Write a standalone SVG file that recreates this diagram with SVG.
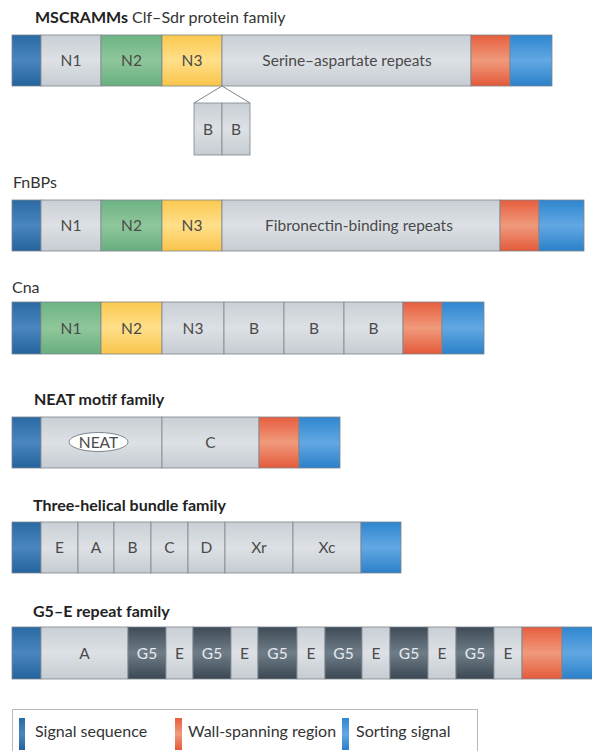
<svg xmlns="http://www.w3.org/2000/svg" width="592" height="751" viewBox="0 0 592 751">
<defs>
<linearGradient id="gSig" x1="0" y1="0" x2="0" y2="1"><stop offset="0" stop-color="#2a6aa3"/><stop offset="0.5" stop-color="#4a86bf"/><stop offset="1" stop-color="#24639c"/></linearGradient>
<linearGradient id="gGrey" x1="0" y1="0" x2="0" y2="1"><stop offset="0" stop-color="#c9cfd5"/><stop offset="0.5" stop-color="#dde1e5"/><stop offset="1" stop-color="#c6ccd2"/></linearGradient>
<linearGradient id="gGreen" x1="0" y1="0" x2="0" y2="1"><stop offset="0" stop-color="#6db383"/><stop offset="0.5" stop-color="#8fc79b"/><stop offset="1" stop-color="#68ae7e"/></linearGradient>
<linearGradient id="gYel" x1="0" y1="0" x2="0" y2="1"><stop offset="0" stop-color="#fbc94f"/><stop offset="0.5" stop-color="#ffdf8a"/><stop offset="1" stop-color="#f9c44a"/></linearGradient>
<linearGradient id="gRed" x1="0" y1="0" x2="0" y2="1"><stop offset="0" stop-color="#e65e3e"/><stop offset="0.5" stop-color="#f09a7c"/><stop offset="1" stop-color="#e35a3a"/></linearGradient>
<linearGradient id="gSort" x1="0" y1="0" x2="0" y2="1"><stop offset="0" stop-color="#2f86cf"/><stop offset="0.5" stop-color="#62a8e3"/><stop offset="1" stop-color="#2b80c9"/></linearGradient>
<linearGradient id="gG5" x1="0" y1="0" x2="0" y2="1"><stop offset="0" stop-color="#3f4c58"/><stop offset="0.5" stop-color="#6f7d89"/><stop offset="1" stop-color="#3b4854"/></linearGradient>
<style>
.sig{fill:url(#gSig)}
.grey{fill:url(#gGrey)}
.green{fill:url(#gGreen)}
.yel{fill:url(#gYel)}
.red{fill:url(#gRed)}
.sort{fill:url(#gSort)}
.g5{fill:url(#gG5)}
rect.s{stroke:#7e868d;stroke-width:0.8}
.lbl{font-family:Lato,"Liberation Sans",sans-serif;font-size:15.5px;fill:#4a4a4a;text-anchor:middle}
.lw{fill:#e6eaee}
.title{font-family:Lato,"Liberation Sans",sans-serif;font-size:16px;fill:#333}
.b{font-weight:bold;fill:#222}
.conn{stroke:#7e868d;stroke-width:1;fill:none}
.leg{font-family:Lato,"Liberation Sans",sans-serif;font-size:16px;fill:#333}
</style>
</defs>
<rect width="592" height="751" fill="#ffffff"/>

<g id="row-mscramm">
<text class="title" x="35" y="23"><tspan class="b">MSCRAMMs</tspan> Clf–Sdr protein family</text>
<rect class="s sig" x="12" y="35" width="29" height="51"/>
<rect class="s grey" x="41" y="35" width="60" height="51"/>
<rect class="s green" x="101" y="35" width="61" height="51"/>
<rect class="s yel" x="162" y="35" width="60" height="51"/>
<rect class="s grey" x="222" y="35" width="249" height="51"/>
<rect class="s red" x="471" y="35" width="39" height="51"/>
<rect class="s sort" x="510" y="35" width="42" height="51"/>
<text class="lbl" x="71" y="66">N1</text>
<text class="lbl" x="131.5" y="66">N2</text>
<text class="lbl" x="192" y="66">N3</text>
<text class="lbl" x="347" y="66">Serine–aspartate repeats</text>
</g>

<g id="callout-bb">
<rect class="s grey" x="194" y="103" width="28" height="52"/>
<rect class="s grey" x="222" y="103" width="28" height="52"/>
<text class="lbl" x="208" y="135">B</text>
<text class="lbl" x="236" y="135">B</text>
</g>

<g id="row-fnbp">
<text class="title" x="13" y="188">FnBPs</text>
<rect class="s sig" x="12" y="200" width="29" height="51"/>
<rect class="s grey" x="41" y="200" width="60" height="51"/>
<rect class="s green" x="101" y="200" width="61" height="51"/>
<rect class="s yel" x="162" y="200" width="60" height="51"/>
<rect class="s grey" x="222" y="200" width="278" height="51"/>
<rect class="s red" x="500" y="200" width="39" height="51"/>
<rect class="s sort" x="539" y="200" width="45" height="51"/>
<text class="lbl" x="71" y="231">N1</text>
<text class="lbl" x="131.5" y="231">N2</text>
<text class="lbl" x="192" y="231">N3</text>
<text class="lbl" x="359" y="231">Fibronectin-binding repeats</text>
</g>

<g id="row-cna">
<text class="title" x="12" y="293">Cna</text>
<rect class="s sig" x="12" y="302" width="29" height="52"/>
<rect class="s green" x="41" y="302" width="60" height="52"/>
<rect class="s yel" x="101" y="302" width="61" height="52"/>
<rect class="s grey" x="162" y="302" width="62" height="52"/>
<rect class="s grey" x="224" y="302" width="60" height="52"/>
<rect class="s grey" x="284" y="302" width="60" height="52"/>
<rect class="s grey" x="344" y="302" width="59" height="52"/>
<rect class="s red" x="403" y="302" width="39" height="52"/>
<rect class="s sort" x="442" y="302" width="42" height="52"/>
<text class="lbl" x="71" y="334">N1</text>
<text class="lbl" x="131.5" y="334">N2</text>
<text class="lbl" x="193" y="334">N3</text>
<text class="lbl" x="254" y="334">B</text>
<text class="lbl" x="314" y="334">B</text>
<text class="lbl" x="373.5" y="334">B</text>
</g>

<g id="row-neat">
<text class="title b" x="34" y="405">NEAT motif family</text>
<rect class="s sig" x="12" y="417" width="29" height="51"/>
<rect class="s grey" x="41" y="417" width="121" height="51"/>
<rect class="s grey" x="162" y="417" width="97" height="51"/>
<rect class="s red" x="259" y="417" width="40" height="51"/>
<rect class="s sort" x="299" y="417" width="41" height="51"/>
<ellipse cx="98.5" cy="442" rx="29.5" ry="9.5" fill="#ffffff" stroke="#7e868d" stroke-width="1"/>
<text class="lbl" x="98.5" y="447.5">NEAT</text>
<text class="lbl" x="210.5" y="448">C</text>
</g>

<g id="row-helical">
<text class="title b" x="33" y="511">Three-helical bundle family</text>
<rect class="s sig" x="12" y="522" width="29" height="51"/>
<rect class="s grey" x="41" y="522" width="37" height="51"/>
<rect class="s grey" x="78" y="522" width="36" height="51"/>
<rect class="s grey" x="114" y="522" width="37" height="51"/>
<rect class="s grey" x="151" y="522" width="37" height="51"/>
<rect class="s grey" x="188" y="522" width="37" height="51"/>
<rect class="s grey" x="225" y="522" width="68" height="51"/>
<rect class="s grey" x="293" y="522" width="68" height="51"/>
<rect class="s sort" x="361" y="522" width="40" height="51"/>
<text class="lbl" x="59.5" y="553">E</text>
<text class="lbl" x="96" y="553">A</text>
<text class="lbl" x="132.5" y="553">B</text>
<text class="lbl" x="169.5" y="553">C</text>
<text class="lbl" x="206.5" y="553">D</text>
<text class="lbl" x="259" y="553">Xr</text>
<text class="lbl" x="327" y="553">Xc</text>
</g>

<g id="row-g5e">
<text class="title b" x="33" y="617">G5–E repeat family</text>
<rect class="s sig" x="12" y="627" width="29" height="52"/>
<rect class="s grey" x="41" y="627" width="87" height="52"/>
<rect class="s g5" x="128" y="627" width="38" height="52"/>
<rect class="s grey" x="166" y="627" width="27" height="52"/>
<rect class="s g5" x="193" y="627" width="38" height="52"/>
<rect class="s grey" x="231" y="627" width="27" height="52"/>
<rect class="s g5" x="258" y="627" width="39" height="52"/>
<rect class="s grey" x="297" y="627" width="28" height="52"/>
<rect class="s g5" x="325" y="627" width="37" height="52"/>
<rect class="s grey" x="362" y="627" width="28" height="52"/>
<rect class="s g5" x="390" y="627" width="38" height="52"/>
<rect class="s grey" x="428" y="627" width="28" height="52"/>
<rect class="s g5" x="456" y="627" width="38" height="52"/>
<rect class="s grey" x="494" y="627" width="28" height="52"/>
<rect class="s red" x="522" y="627" width="40" height="52"/>
<rect class="s sort" x="562" y="627" width="32" height="52"/>
<text class="lbl" x="84.5" y="659">A</text>
<text class="lbl lw" x="147" y="659">G5</text>
<text class="lbl" x="179.5" y="659">E</text>
<text class="lbl lw" x="212" y="659">G5</text>
<text class="lbl" x="244.5" y="659">E</text>
<text class="lbl lw" x="277.5" y="659">G5</text>
<text class="lbl" x="311" y="659">E</text>
<text class="lbl lw" x="343.5" y="659">G5</text>
<text class="lbl" x="376" y="659">E</text>
<text class="lbl lw" x="409" y="659">G5</text>
<text class="lbl" x="442" y="659">E</text>
<text class="lbl lw" x="475" y="659">G5</text>
<text class="lbl" x="508" y="659">E</text>
</g>

<g id="connectors">
<line class="conn" x1="222" y1="86" x2="194" y2="103"/>
<line class="conn" x1="222" y1="86" x2="250" y2="103"/>
</g>

<g id="legend">
<rect x="12.5" y="709.5" width="465" height="50" fill="none" stroke="#b5b9bd" stroke-width="1"/>
<rect class="sig" x="19" y="718" width="6" height="32"/>
<text class="leg" x="35" y="737">Signal sequence</text>
<rect class="red" x="175" y="718" width="7" height="32"/>
<text class="leg" x="188" y="737">Wall-spanning region</text>
<rect class="sort" x="342" y="718" width="7" height="32"/>
<text class="leg" x="356" y="737">Sorting signal</text>
</g>
</svg>
